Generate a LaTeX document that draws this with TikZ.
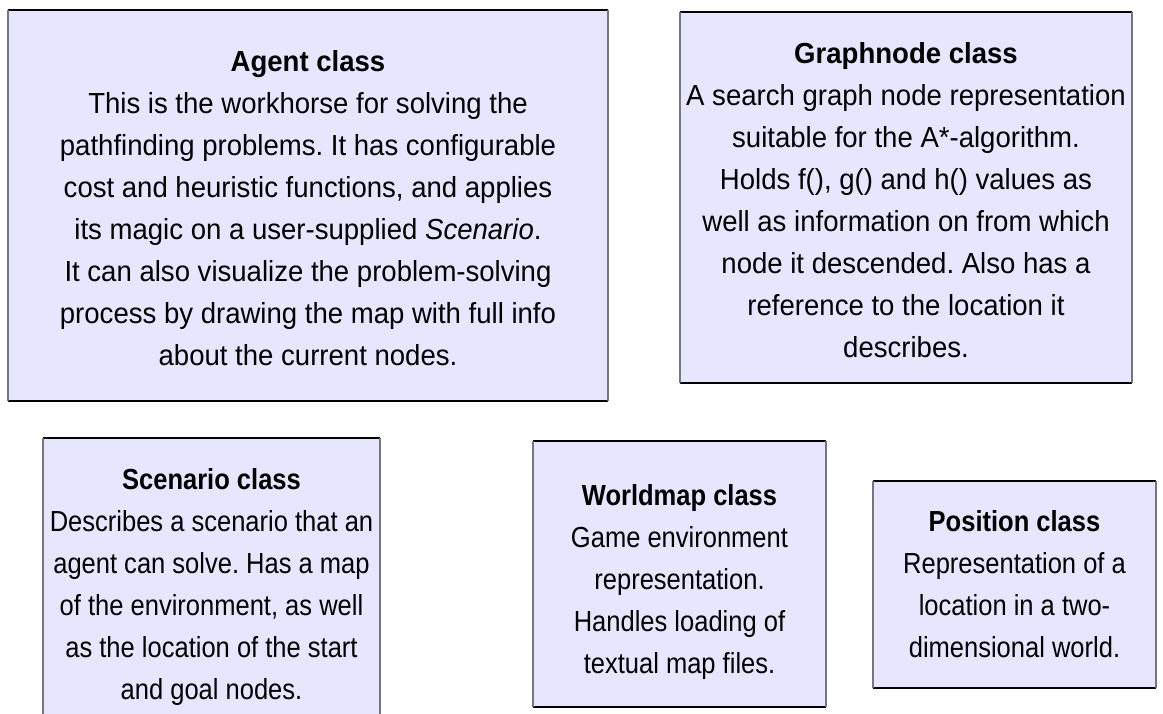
\documentclass[tikz,border=0pt]{standalone}
\usepackage{fontspec}
\setmainfont[FakeStretch=0.95]{Liberation Sans}
\newfontfamily\narrowsans[FakeStretch=0.88]{Liberation Sans}
\definecolor{boxfill}{RGB}{230,230,255}
\definecolor{sidegray}{RGB}{118,118,128}
\tikzset{
  classbox/.style={fill=boxfill, draw=none, inner sep=0pt, outer sep=0pt, anchor=north west},
  boxtext/.style={align=center, inner sep=0pt, font=\fontsize{29}{42}\selectfont},
  smalltext/.style={boxtext, font=\narrowsans\fontsize{29}{42}\selectfont},
  edgeh/.style={draw=black, line width=1.2pt},
  edgev/.style={draw=sidegray, line width=1.8pt},
}
% draws the four edges of a class box: dark top and bottom, grey sides
\newcommand{\boxedges}[1]{%
  \draw[edgeh] (#1.north west) -- (#1.north east);
  \draw[edgeh] (#1.south west) -- (#1.south east);
  \draw[edgev] (#1.north west) -- (#1.south west);
  \draw[edgev] (#1.north east) -- (#1.south east);
}
\frenchspacing
\begin{document}
\frenchspacing
\begin{tikzpicture}[x=1pt, y=-1pt]
\useasboundingbox[fill=white] (0,0) rectangle (1163,713);

% Agent class
\node[classbox, minimum width=600pt, minimum height=391pt] (agent) at (8,10) {};
\boxedges{agent}
\node[boxtext] (agenttext) at (308,208) {\textbf{Agent class}\\
This is the workhorse for solving the\\
pathfinding problems. It has configurable\\
cost and heuristic functions, and applies\\
its magic on a user-supplied \textit{Scenario}.\\
It can also visualize the problem-solving\\
process by drawing the map with full info\\
about the current nodes.};

% Graphnode class
\node[classbox, minimum width=452pt, minimum height=371pt] (graphnode) at (680,12) {};
\boxedges{graphnode}
\node[boxtext] (graphnodetext) at (906,200) {\textbf{Graphnode class}\\
A search graph node representation\\
suitable for the A*-algorithm.\\
Holds f(), g() and h() values as\\
well as information on from which\\
node it descended. Also has a\\
reference to the location it\\
describes.};

% Scenario class (runs past the lower edge)
\node[classbox, minimum width=337pt, minimum height=290pt] (scenario) at (43,438) {};
\boxedges{scenario}
\node[smalltext] (scenariotext) at (211.5,587) {\textbf{Scenario class}\\
Describes a scenario that an\\
agent can solve. Has a map\\
of the environment, as well\\
as the location of the start\\
and goal nodes.};

% Worldmap class
\node[classbox, minimum width=293pt, minimum height=266pt] (worldmap) at (533,441) {};
\boxedges{worldmap}
\node[smalltext] (worldmaptext) at (679.5,582) {\textbf{Worldmap class}\\
Game environment\\
representation.\\
Handles loading of\\
textual map files.};

% Position class
\node[classbox, minimum width=283pt, minimum height=207pt] (position) at (873,481) {};
\boxedges{position}
\node[smalltext] (positiontext) at (1014.5,584) {\textbf{Position class}\\
Representation of a\\
location in a two-\\
dimensional world.};
\end{tikzpicture}
\end{document}
